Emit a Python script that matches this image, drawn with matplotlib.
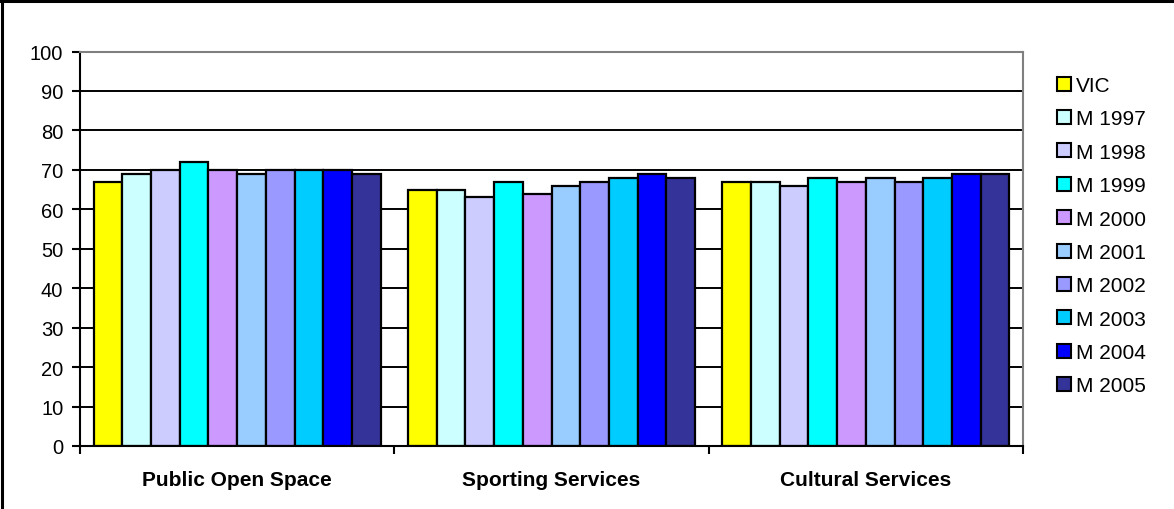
import matplotlib
matplotlib.use("Agg")
import matplotlib.pyplot as plt
import numpy as np
from matplotlib.lines import Line2D
from matplotlib.patches import Patch

plt.rcParams["font.family"] = ["Liberation Sans", "DejaVu Sans"]

categories = ["Public Open Space", "Sporting Services", "Cultural Services"]
series_names = ["VIC", "M 1997", "M 1998", "M 1999", "M 2000",
                "M 2001", "M 2002", "M 2003", "M 2004", "M 2005"]
vic = [67, 65, 67]
m1997 = [69, 65, 67]
m1998 = [70, 63, 66]
m1999 = [72, 67, 68]
m2000 = [70, 64, 67]
m2001 = [69, 66, 68]
m2002 = [70, 67, 67]
m2003 = [70, 68, 68]
m2004 = [70, 69, 69]
m2005 = [69, 68, 69]
series_values = [vic, m1997, m1998, m1999, m2000,
                 m2001, m2002, m2003, m2004, m2005]
colors = ["#FFFF00", "#CCFFFF", "#CCCCFF", "#00FFFF", "#CC99FF",
          "#99CCFF", "#9999FF", "#00CCFF", "#0000FF", "#333399"]
y_ticks = [0, 10, 20, 30, 40, 50, 60, 70, 80, 90, 100]

W, H, DPI = 1174, 510, 100
fig = plt.figure(figsize=(W / DPI, H / DPI), dpi=DPI)
ax = fig.add_axes([80 / W, 1 - 447 / H, 943 / W, 394.5 / H])

n = len(series_names)
bw = 0.0913
x = np.arange(len(categories))
for i, (name, vals, c) in enumerate(zip(series_names, series_values, colors)):
    ax.bar(x + (i - (n - 1) / 2) * bw, vals, width=bw, color=c,
           edgecolor="black", linewidth=1.6, label=name, zorder=3)

ax.set_xlim(-0.5, len(categories) - 0.5)
ax.set_ylim(0, 100)
ax.set_yticks(y_ticks)
ax.set_yticklabels([str(t) for t in y_ticks], fontsize=14.5)
for t in y_ticks[1:-1]:
    ax.axhline(t, color="black", linewidth=1.4, zorder=1)

# category labels, with ticks on the boundaries between categories
ax.set_xticks(np.arange(-0.5, len(categories), 1.0))
ax.set_xticklabels([])
ax.set_xticks(x, minor=True)
ax.set_xticklabels(categories, minor=True, fontsize=15, fontweight="bold")
ax.tick_params(axis="x", which="minor", length=0, pad=17)
ax.tick_params(axis="x", which="major", direction="out", length=6,
               width=1.5, color="black")
ax.tick_params(axis="y", direction="out", length=6, width=1.5, pad=6)

ax.spines["left"].set_linewidth(1.5)
ax.spines["bottom"].set_linewidth(1.5)
ax.spines["bottom"].set_zorder(4)
ax.spines["top"].set_color("#808080")
ax.spines["right"].set_color("#808080")
ax.spines["top"].set_linewidth(1.5)
ax.spines["right"].set_linewidth(1.5)

handles = [Patch(facecolor=c, edgecolor="black", linewidth=1.5) for c in colors]
fig.legend(handles, series_names, loc="upper left",
           bbox_to_anchor=(1057 / W, 1 - 77 / H), frameon=False,
           fontsize=15, handlelength=0.65, handleheight=0.65,
           handletextpad=0.25, labelspacing=0.69, borderpad=0,
           borderaxespad=0)

# outer frame edges (top and left)
fig.add_artist(Line2D([1.5 / W, 1.5 / W], [0, 1], transform=fig.transFigure,
                      color="black", linewidth=2.2))
fig.add_artist(Line2D([0, 1], [1 - 1.5 / H, 1 - 1.5 / H],
                      transform=fig.transFigure, color="black", linewidth=2.2))

fig.savefig("out.png", dpi=DPI)
